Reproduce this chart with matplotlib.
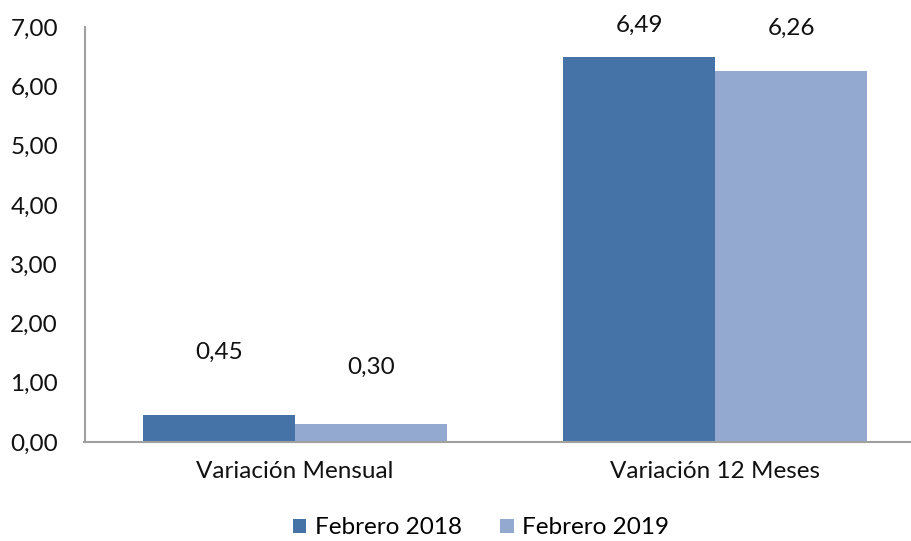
import matplotlib.pyplot as plt
import numpy as np

# data
categories = ['Variación Mensual', 'Variación 12 Meses']
feb_2018 = [0.45, 6.49]
feb_2019 = [0.30, 6.26]
series_names = ['Febrero 2018', 'Febrero 2019']
yticks = [0, 1, 2, 3, 4, 5, 6, 7]

# label offsets above bar tops (pixels), as Excel placed them
off_2018 = [63, 32]
off_2019 = [57, 43]

plt.rcParams['font.family'] = ['Lato', 'DejaVu Sans']

dark = '#4573A7'
light = '#94A9D0'
spine_col = '#A0A0A0'
txt = '#111111'
fs = 17.5

W, H = 911, 541
fig = plt.figure(figsize=(W / 100, H / 100), dpi=100)
# axes spans past the right edge like the original
left, right, top, bottom = 84.5, 925.5, 27, 442
ax = fig.add_axes([left / W, 1 - bottom / H, (right - left) / W, (bottom - top) / H])

x = np.arange(len(categories))
bw = 0.362
b1 = ax.bar(x - bw / 2, feb_2018, bw, color=dark, label=series_names[0])
b2 = ax.bar(x + bw / 2, feb_2019, bw, color=light, label=series_names[1])

for bars, vals, offs in [(b1, feb_2018, off_2018), (b2, feb_2019, off_2019)]:
    for rect, v, o in zip(bars, vals, offs):
        ax.annotate(f'{v:.2f}'.replace('.', ','),
                    (rect.get_x() + rect.get_width() / 2, v),
                    xytext=(0, o), textcoords='offset pixels',
                    ha='center', va='center', fontsize=fs, color=txt)

ax.set_xlim(-0.5, 1.5)
ax.set_ylim(0, 7)
ax.set_yticks(yticks)
ax.set_yticklabels([f'{t:.2f}'.replace('.', ',') for t in yticks])
ax.set_xticks(x)
ax.set_xticklabels(categories)
ax.tick_params(axis='y', length=0, pad=19, labelsize=fs, labelcolor=txt)
ax.tick_params(axis='x', length=0, pad=14, labelsize=fs, labelcolor=txt)

for s in ['top', 'right']:
    ax.spines[s].set_visible(False)
for s in ['left', 'bottom']:
    ax.spines[s].set_color(spine_col)
    ax.spines[s].set_linewidth(1.5)

fig.legend(loc='center', bbox_to_anchor=(481 / W, 1 - 528 / H), ncol=2, frameon=False,
           fontsize=fs, handlelength=0.55, handleheight=0.55, handletextpad=0.35,
           columnspacing=1.6, borderpad=0)

fig.savefig('out.png', dpi=100)
